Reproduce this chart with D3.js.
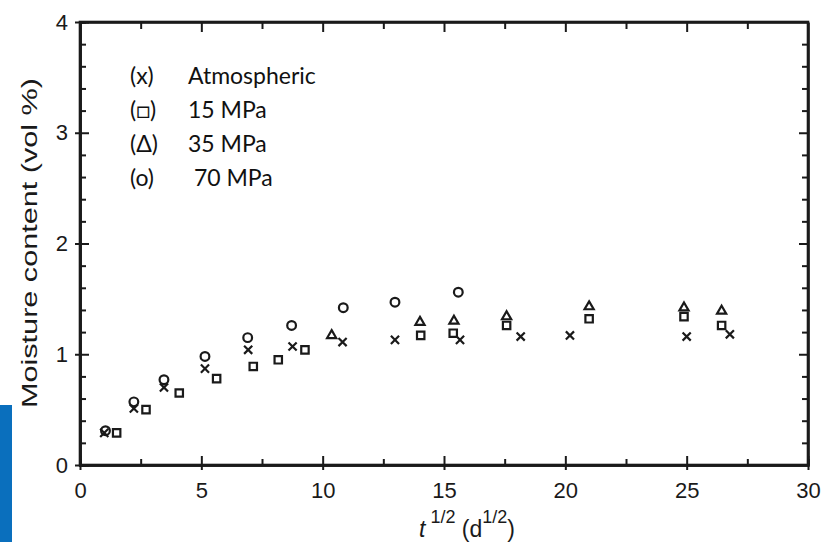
<!DOCTYPE html>
<html>
<head>
<meta charset="utf-8">
<script src="https://cdn.jsdelivr.net/npm/d3@7"></script>
<style>
  body { margin: 0; background: #fff; }
  svg { display: block; }
</style>
</head>
<body>
<div id="chart"></div>
<script>
// Moisture uptake vs square root of time, four pressures
const atmX = [1.0, 2.22, 3.46, 5.15, 6.93, 8.76, 10.82, 12.98, 15.66, 18.16, 20.19, 25.0, 26.78]
const atmY = [0.29, 0.51, 0.70, 0.87, 1.04, 1.07, 1.11, 1.13, 1.13, 1.16, 1.17, 1.16, 1.18]

const mpa15X = [1.51, 2.72, 4.09, 5.63, 7.14, 8.17, 9.27, 14.04, 15.38, 17.58, 20.98, 24.89, 26.44]
const mpa15Y = [0.29, 0.50, 0.65, 0.78, 0.89, 0.95, 1.04, 1.17, 1.19, 1.26, 1.32, 1.34, 1.26]

const mpa35X = [10.37, 14.01, 15.41, 17.58, 20.98, 24.89, 26.44]
const mpa35Y = [1.17, 1.29, 1.30, 1.34, 1.43, 1.42, 1.39]

const mpa70X = [1.05, 2.22, 3.46, 5.15, 6.91, 8.72, 10.85, 12.98, 15.59]
const mpa70Y = [0.31, 0.57, 0.77, 0.98, 1.15, 1.26, 1.42, 1.47, 1.56]

const xTicks = [0, 5, 10, 15, 20, 25, 30]
const yTicks = [0, 1, 2, 3, 4]
const legendKeys = ["(x)", "(\u25A1)", "(\u0394)", "(o)"]
const legendNames = ["Atmospheric", "15 MPa", "35 MPa", " 70 MPa"]

const svgWidth = 823
const svgHeight = 542

let margin = { top: 22, right: 15, bottom: 77, left: 80 }
let width = svgWidth - margin.left - margin.right
let height = svgHeight - margin.top - margin.bottom

let svg = d3.select("#chart")
  .append("svg")
  .attr("width", svgWidth)
  .attr("height", svgHeight)

// blue strip on the left edge of the slide
svg.append("rect")
  .attr("x", 0).attr("y", 405)
  .attr("width", 12).attr("height", svgHeight - 405)
  .attr("fill", "#0a6fbd")

let chart = svg.append("g")
  .attr("transform", `translate(${margin.left}, ${margin.top})`)

let x = d3.scaleLinear().domain([0, 30]).range([0, width])
let y = d3.scaleLinear().domain([0, 4]).range([height, 0])

const ink = "#1a1a1a"
const tickFont = "'Liberation Sans', Arial, sans-serif"

// --- axes ---
let xAxisG = chart.append("g")
  .attr("transform", `translate(0, ${height})`)
  .call(d3.axisBottom(x).tickValues(xTicks).tickFormat(d3.format("d"))
    .tickSizeInner(5).tickSizeOuter(0).tickPadding(12))
let xAxisIn = chart.append("g")
  .attr("transform", `translate(0, ${height})`)
  .call(d3.axisBottom(x).tickValues(d3.range(0, 30.01, 2.5)).tickSize(-6).tickFormat(""))
xAxisIn.selectAll(".tick line").filter(d => d % 5 === 0).attr("y2", -9)

let topAxisG = chart.append("g")
  .call(d3.axisTop(x).tickValues(d3.range(2.5, 30, 2.5)).tickSize(-7).tickFormat("").tickSizeOuter(0))
topAxisG.selectAll(".tick line").filter(d => d % 5 === 0).attr("y2", 10)

let yAxisG = chart.append("g")
  .call(d3.axisLeft(y).tickValues(yTicks).tickFormat(d3.format("d"))
    .tickSizeInner(5).tickSizeOuter(0).tickPadding(7))
let yAxisIn = chart.append("g")
  .call(d3.axisLeft(y).tickValues(d3.range(0, 4.01, 0.2)).tickSize(-6).tickFormat(""))
yAxisIn.selectAll(".tick line").filter(d => Math.abs(d - Math.round(d)) < 1e-6).attr("x2", 9)

let rightAxisG = chart.append("g")
  .attr("transform", `translate(${width}, 0)`)
  .call(d3.axisRight(y).tickValues(d3.range(0.2, 4, 0.2)).tickSize(-6).tickFormat("").tickSizeOuter(0))
rightAxisG.selectAll(".tick line").filter(d => Math.abs(d - Math.round(d)) < 1e-6).attr("x2", -9)

chart.selectAll(".domain").attr("stroke", ink).attr("stroke-width", 2.6)
chart.selectAll(".tick line").attr("stroke", ink).attr("stroke-width", 2)
chart.selectAll(".tick text")
  .attr("fill", ink)
  .style("font-family", tickFont)
  .style("font-size", "22px")

// frame so the thick lines meet cleanly
chart.append("rect")
  .attr("x", 0).attr("y", 0)
  .attr("width", width).attr("height", height)
  .attr("fill", "none")
  .attr("stroke", ink)
  .attr("stroke-width", 2.6)

// --- axis titles ---
let xTitle = svg.append("text")
  .attr("x", 467)
  .attr("y", 537)
  .attr("text-anchor", "middle")
  .attr("fill", ink)
  .style("font-family", tickFont)
  .style("font-size", "23px")
xTitle.append("tspan").style("font-style", "italic").text("t")
xTitle.append("tspan").attr("dy", -14).style("font-size", "18px").text(" 1/2")
xTitle.append("tspan").attr("dy", 14).text(" (d")
xTitle.append("tspan").attr("dy", -14).style("font-size", "18px").text("1/2")
xTitle.append("tspan").attr("dy", 14).text(")")

svg.append("text")
  .attr("transform", "translate(37, 243) rotate(-90)")
  .attr("text-anchor", "middle")
  .attr("fill", ink)
  .attr("textLength", 330)
  .attr("lengthAdjust", "spacingAndGlyphs")
  .style("font-family", tickFont)
  .style("font-size", "22px")
  .text("Moisture content (vol %)")

// --- markers ---
function plotSeries(xs, ys, type, size) {
  let sym = d3.symbol().type(type).size(size)
  chart.append("g")
    .selectAll("path")
    .data(xs.map((v, i) => [v, ys[i]]))
    .enter()
    .append("path")
    .attr("transform", d => `translate(${x(d[0])}, ${y(d[1])})`)
    .attr("d", sym)
    .attr("fill", "none")
    .attr("stroke", ink)
    .attr("stroke-width", 2.2)
}

plotSeries(mpa15X, mpa15Y, d3.symbolSquare2 || d3.symbolSquare, 70)
plotSeries(mpa35X, mpa35Y, d3.symbolTriangle2 || d3.symbolTriangle, 60)
plotSeries(mpa70X, mpa70Y, d3.symbolCircle, 60)
plotSeries(atmX, atmY, d3.symbolX || d3.symbolCross, 45)

// --- legend text ---
let legend = svg.append("g")
  .style("font-family", "Lato, 'Open Sans', sans-serif")
  .style("font-size", "23px")
  .attr("fill", "#111")

legendKeys.forEach((k, i) => {
  legend.append("text").attr("x", 130).attr("y", 84 + i * 34).text(k)
  legend.append("text").attr("x", 188).attr("y", 84 + i * 34)
    .attr("xml:space", "preserve").style("white-space", "pre").text(legendNames[i])
})
</script>
</body>
</html>
